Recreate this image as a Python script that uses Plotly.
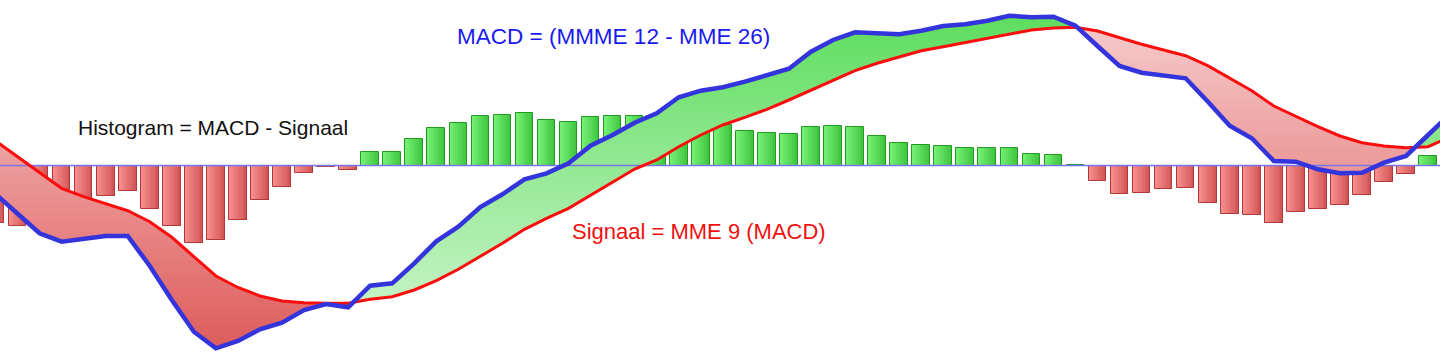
import plotly.graph_objects as go

# ---- data (values in chart units, zero = histogram baseline) ----
periods = list(range(67))

macd = [-28.5, -47.5, -67.8, -76.2, -72.8, -70.5, -70.5, -100.5, -134.5, -166.2,
        -182.8, -175.5, -163.8, -157.2, -144.5, -138.5, -141.8, -120.2, -117.8, -97.8,
        -75.8, -61.2, -41.5, -28.8, -13.8, -7.8, 2.2, 19.8, 30.5, 42.8,
        52.2, 68.2, 74.8, 78.2, 83.8, 89.8, 96.8, 113.8, 125.5, 133.2,
        132.2, 131.2, 134.8, 139.5, 141.2, 144.8, 149.8, 148.2, 148.8, 139.8,
        119.5, 99.5, 92.8, 90.5, 87.2, 64.0, 39.8, 27.2, 4.5, 3.8,
        -3.8, -7.8, -7.2, 2.8, 9.5, 30.5, 51.5]

signal = [24.5, 8.8, -7.2, -22.8, -31.2, -38.5, -45.2, -56.2, -71.8, -91.2,
          -110.5, -122.0, -130.5, -135.5, -137.2, -137.8, -137.8, -133.8, -131.2, -124.5,
          -115.2, -103.8, -90.8, -77.8, -63.8, -52.8, -42.8, -29.5, -16.2, -3.5,
          5.5, 18.8, 30.5, 40.5, 48.2, 56.2, 65.5, 75.5, 85.5, 94.8,
          102.2, 108.8, 114.8, 118.8, 122.8, 127.2, 131.5, 135.5, 137.5, 138.2,
          134.5, 127.8, 121.2, 115.5, 109.8, 99.8, 87.2, 74.8, 59.5, 48.8,
          38.8, 29.5, 22.8, 19.5, 17.8, 18.8, 28.5]

histogram = [-57, -60.5, -60.5, -55.5, -42, -30, -25, -43.5, -60.5, -77,
             -74, -54, -34, -21.5, -7, -1.5, -4, 14, 14, 27,
             38, 43, 50, 50.5, 52.5, 46, 44, 49, 50, 50,
             47.5, 49, 45, 40.5, 34.5, 33, 31.5, 38.5, 40, 38.5,
             29.5, 23, 21, 20, 18, 18, 18, 12, 11, 1,
             -15, -28, -27, -23, -22, -37.5, -48, -49, -57, -46,
             -43.5, -39, -29, -16, -8, 9.5]
hist_x = periods[:len(histogram)]

label_macd = "MACD = (MMME 12 - MME 26)"
label_hist = "Histogram = MACD - Signaal"
label_sig = "Signaal = MME 9 (MACD)"

# ---- styles ----
FONT = "Liberation Sans, Arial, sans-serif"
BLUE = "#3434dc"
RED = "#fb0d0d"
W, H = 1440, 353
Y_RANGE = [-187.5, 165.5]
X_RANGE = [0.204, 65.54]
BAR_W = 0.8
N_STRIPS = 9


def hex2rgb(h):
    h = h.lstrip("#")
    return tuple(int(h[i:i + 2], 16) for i in (0, 2, 4))


def mix(c0, c1, t):
    a, b = hex2rgb(c0), hex2rgb(c1)
    return "rgb(%d,%d,%d)" % tuple(round(a[k] + (b[k] - a[k]) * t) for k in range(3))


# value-> colour maps for fill gradients (bottom colour, top colour)
RED_FILL = ("#de5a5a", "#f8d2d2")
GREEN_FILL = ("#d6f7d6", "#58dc58")


def grad_color(pair, v):
    t = (v - Y_RANGE[0]) / (Y_RANGE[1] - Y_RANGE[0])
    t = min(1, max(0, t))
    return mix(pair[0], pair[1], t)


fig = go.Figure()

# ---- filled areas between MACD and signal, split at crossings ----
pts = []
for i in range(len(periods) - 1):
    pts.append((periods[i], macd[i], signal[i], False))
    d0 = macd[i] - signal[i]
    d1 = macd[i + 1] - signal[i + 1]
    if d0 * d1 < 0:
        t = d0 / (d0 - d1)
        xc = periods[i] + t * (periods[i + 1] - periods[i])
        yc = macd[i] + t * (macd[i + 1] - macd[i])
        pts.append((xc, yc, yc, True))
pts.append((periods[-1], macd[-1], signal[-1], False))

regions = []
cur = []
for p in pts:
    cur.append(p)
    if p[3] and len(cur) > 1:
        regions.append(cur)
        cur = [p]
if len(cur) > 1:
    regions.append(cur)

for reg in regions:
    diff = sum(p[1] - p[2] for p in reg)
    xs = [p[0] for p in reg] + [p[0] for p in reversed(reg)]
    ys = [p[1] for p in reg] + [p[2] for p in reversed(reg)]
    pair = GREEN_FILL if diff > 0 else RED_FILL
    lo, hi = min(ys), max(ys)
    cs = [[0, grad_color(pair, lo)], [1, grad_color(pair, hi)]]
    fig.add_trace(go.Scatter(
        x=xs, y=ys, mode="lines", line=dict(width=0), fill="toself",
        fillgradient=dict(type="vertical", colorscale=cs, start=lo, stop=hi),
        hoverinfo="skip", showlegend=False))

# ---- histogram bars (horizontal gradient via overlapping strips) ----
POS_GRAD = ("#74ef74", "#3ec63e")
NEG_GRAD = ("#f68c8c", "#d25656")
for k in range(N_STRIPS):
    t = k / (N_STRIPS - 1)
    off = -BAR_W / 2 + k * BAR_W / N_STRIPS
    wid = BAR_W - k * BAR_W / N_STRIPS
    cols = [mix(*(POS_GRAD if v >= 0 else NEG_GRAD), t) for v in histogram]
    fig.add_trace(go.Bar(
        x=hist_x, y=histogram, width=wid, offset=off,
        marker=dict(color=cols, line=dict(width=0)),
        showlegend=False, hoverinfo="skip"))

bar_line = ["#1f9c1f" if v >= 0 else "#b03838" for v in histogram]
fig.add_trace(go.Bar(
    x=hist_x, y=histogram, width=BAR_W, offset=-BAR_W / 2,
    marker=dict(color="rgba(0,0,0,0)", line=dict(color=bar_line, width=1)),
    showlegend=False, hoverinfo="skip"))

# ---- zero line ----
fig.add_trace(go.Scatter(
    x=[X_RANGE[0] - 1, X_RANGE[1] + 1], y=[0, 0], mode="lines",
    line=dict(color="#7676ea", width=1.6), hoverinfo="skip", showlegend=False))

# ---- lines ----
fig.add_trace(go.Scatter(x=periods, y=signal, mode="lines",
                         line=dict(color=RED, width=3), showlegend=False))
fig.add_trace(go.Scatter(x=periods, y=macd, mode="lines",
                         line=dict(color=BLUE, width=4.5), showlegend=False))

# ---- labels ----
def px(xp, yp):
    return xp / W, 1 - yp / H

for text, (xp, yp), size, color in [
    (label_macd, (613, 37), 22.5, "#1a1aee"),
    (label_hist, (213, 128), 21, "#111111"),
    (label_sig, (699, 231), 22, "#f01010"),
]:
    xx, yy = px(xp, yp)
    fig.add_annotation(x=xx, y=yy, xref="paper", yref="paper", text=text,
                       showarrow=False, xanchor="center", yanchor="middle",
                       font=dict(family=FONT, size=size, color=color))

fig.update_layout(
    width=W, height=H, margin=dict(l=0, r=0, t=0, b=0),
    paper_bgcolor="white", plot_bgcolor="white",
    barmode="overlay", bargap=0,
    xaxis=dict(range=X_RANGE, visible=False, fixedrange=True),
    yaxis=dict(range=Y_RANGE, visible=False, fixedrange=True),
)

fig.write_html("out.html")
